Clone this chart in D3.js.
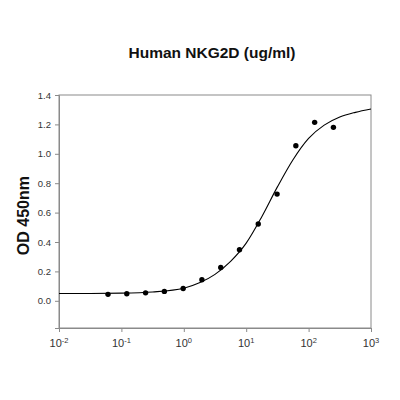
<!DOCTYPE html>
<html>
<head>
<meta charset="utf-8">
<script src="https://cdn.jsdelivr.net/npm/d3@7"></script>
<style>
  body { margin: 0; background: #fff; }
  svg { font-family: Arial, "Liberation Sans", sans-serif; }
</style>
</head>
<body>
<div id="chart"></div>
<script>
const width = 400;
const height = 400;

// concentration (ug/ml) and OD readings
const conc = [0.061, 0.122, 0.244, 0.488, 0.977, 1.95, 3.91, 7.81, 15.6, 31.25, 62.5, 125, 250];
const od = [0.044, 0.048, 0.054, 0.064, 0.084, 0.143, 0.227, 0.347, 0.522, 0.726, 1.055, 1.214, 1.180];

// fitted curve (log10 conc, OD)
const fitLogX = [-2, -1.5, -1, -0.5, 0, 0.25, 0.5, 0.75, 1, 1.25, 1.5, 1.75, 2, 2.25, 2.5, 2.75, 3];
const fitY = [0.050, 0.050, 0.052, 0.060, 0.085, 0.122, 0.180, 0.268, 0.392, 0.572, 0.775, 0.960, 1.105, 1.195, 1.250, 1.282, 1.305];

const xTicks = [-2, -1, 0, 1, 2, 3];
const yTicks = [0, 0.2, 0.4, 0.6, 0.8, 1.0, 1.2, 1.4];

const margin = {top: 95, right: 29, bottom: 72, left: 59};
const innerW = width - margin.left - margin.right;
const innerH = height - margin.top - margin.bottom;

const x = d3.scaleLog().domain([0.01, 1000]).range([0, innerW]);
const y = d3.scaleLinear().domain([-0.185, 1.4]).range([innerH, 0]);

const svg = d3.select('#chart')
    .append('svg')
    .attr('width', width)
    .attr('height', height);

const g = svg.append('g')
    .attr('transform', `translate(${margin.left},${margin.top})`);

// frame
g.append('rect')
    .attr('width', innerW)
    .attr('height', innerH)
    .attr('fill', 'none')
    .attr('stroke', '#8a8a8a')
    .attr('stroke-width', 1);

// y axis
const yAxis = g.append('g')
    .call(d3.axisLeft(y).tickValues(yTicks).tickSize(4).tickFormat(d3.format('.1f')));
yAxis.select('.domain').attr('stroke', '#8a8a8a');
yAxis.selectAll('.tick line').attr('stroke', '#8a8a8a');
yAxis.selectAll('.tick text')
    .attr('x', -8)
    .attr('fill', '#333')
    .style('font-size', '9.5px')
    .style('font-family', 'Arial, "Liberation Sans", sans-serif');

// x axis
const xAxis = g.append('g')
    .attr('transform', `translate(0,${innerH})`)
    .call(d3.axisBottom(x).tickValues(xTicks.map(p => Math.pow(10, p))).tickSize(4).tickFormat(''));
xAxis.select('.domain').attr('stroke', '#8a8a8a');
xAxis.selectAll('.tick line').attr('stroke', '#8a8a8a');

const xLabels = g.append('g')
    .selectAll('text')
    .data(xTicks)
    .enter()
    .append('text')
    .attr('x', d => x(Math.pow(10, d)))
    .attr('y', innerH + 19)
    .attr('text-anchor', 'middle')
    .attr('fill', '#333')
    .style('font-size', '11px');
xLabels.append('tspan').text('10');
xLabels.append('tspan')
    .attr('dy', -4)
    .style('font-size', '7.5px')
    .text(d => d);

// fitted curve
const line = d3.line()
    .x((d, i) => x(Math.pow(10, d)))
    .y((d, i) => y(fitY[i]))
    .curve(d3.curveMonotoneX);

g.append('path')
    .datum(fitLogX)
    .attr('fill', 'none')
    .attr('stroke', '#000')
    .attr('stroke-width', 1.1)
    .attr('d', line);

// data points
g.selectAll('circle.pt')
    .data(conc)
    .enter()
    .append('circle')
    .attr('class', 'pt')
    .attr('cx', d => x(d))
    .attr('cy', (d, i) => y(od[i]))
    .attr('r', 2.7)
    .attr('fill', '#000');

// title
svg.append('text')
    .attr('x', 212)
    .attr('y', 58)
    .attr('text-anchor', 'middle')
    .style('font-size', '15.5px')
    .style('font-weight', 'bold')
    .attr('fill', '#111')
    .text('Human NKG2D (ug/ml)');

// y label
svg.append('text')
    .attr('transform', `translate(29,${margin.top + y(0.6) + 3}) rotate(-90)`)
    .attr('text-anchor', 'middle')
    .style('font-size', '16px')
    .style('font-weight', 'bold')
    .attr('fill', '#111')
    .text('OD 450nm');
</script>
</body>
</html>
